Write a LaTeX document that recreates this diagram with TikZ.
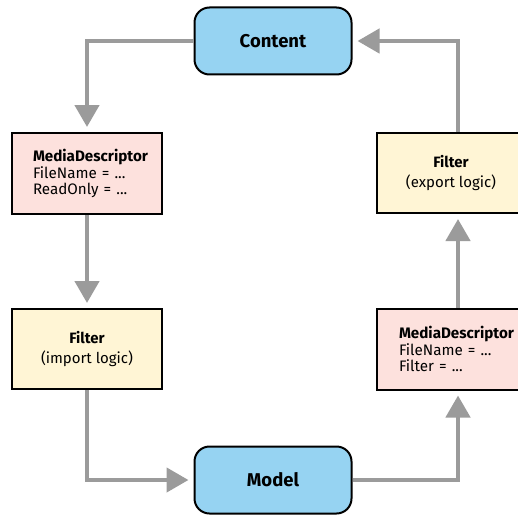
\documentclass[tikz,border=0pt]{standalone}
\usepackage{fontspec}
\setmainfont{Fira Sans}
\usetikzlibrary{arrows.meta}
\definecolor{modelblue}{HTML}{96D3F2}
\definecolor{descpink}{HTML}{FDE1DD}
\definecolor{filtercream}{HTML}{FFF5D5}
\definecolor{flowgray}{HTML}{9B9B9B}
\begin{document}
\begin{tikzpicture}[x=1pt, y=-1pt,
    store/.style={draw, line width=2pt, rounded corners=15pt, fill=modelblue,
        minimum width=157pt, minimum height=67pt, font=\fontsize{18.5}{22}\selectfont\bfseries},
    descbox/.style={draw, line width=2pt, fill=descpink, minimum width=150pt, minimum height=81pt,
        align=left, text width=108pt, font=\fontsize{15.2}{16.8}\selectfont},
    filterbox/.style={draw, line width=2pt, fill=filtercream, minimum width=150pt, minimum height=80pt,
        align=center, font=\fontsize{15}{20}\selectfont},
    flow/.style={draw=flowgray, line width=4.5pt, line join=miter,
        -{Triangle[width=24pt, length=22pt]}, shorten >=5pt}]
    \useasboundingbox (0,0) rectangle (518,516);
    \clip (0,0) rectangle (518,516);

    % Model and content
    \node[store] (content) at (273,41) {Content};
    \node[store] (model) at (273,480) {Model};

    % Import side
    \node[descbox] (mdin) at (87,173.5) {\textbf{MediaDescriptor}\\FileName = ...\\ReadOnly = ...};
    \node[filterbox] (filterin) at (87,349) {\textbf{Filter}\\(import logic)};

    % Export side
    \node[filterbox, minimum width=148pt] (filterout) at (451,173) {\textbf{Filter}\\(export logic)};
    \node[descbox, minimum width=148pt, text width=104pt] (mdout) at (451,349) {\textbf{MediaDescriptor}\\FileName = ...\\Filter = ...};

    % Flow
    \draw[flow] (content.west) -| (mdin.north);
    \draw[flow] (mdin.south) -- (filterin.north);
    \draw[flow] (filterin.south) |- (model.west);
    \draw[flow] (model.east) -| ([xshift=7pt]mdout.south);
    \draw[flow] ([xshift=7pt]mdout.north) -- ([xshift=7pt]filterout.south);
    \draw[flow] ([xshift=7pt]filterout.north) |- (content.east);
\end{tikzpicture}
\end{document}
